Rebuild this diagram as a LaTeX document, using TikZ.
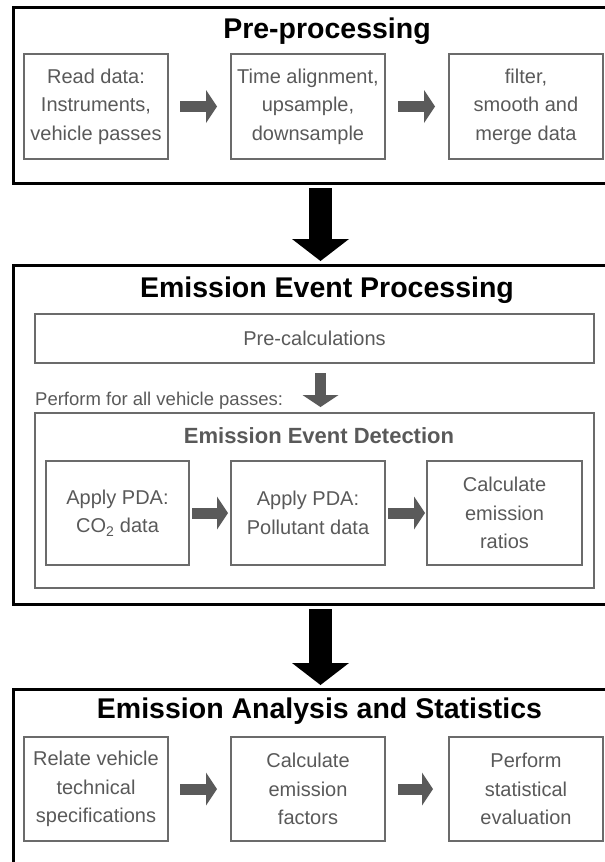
\documentclass[tikz,border=0pt]{standalone}
\usepackage{fontspec}
\setmainfont{Liberation Sans}
\usepackage{tikz}
\usetikzlibrary{arrows.meta, positioning, calc}

\definecolor{boxGray}{HTML}{6B6B6B}
\definecolor{textGray}{HTML}{595959}
\definecolor{arrowGray}{HTML}{5A5A5A}

\newcommand{\StageFont}{\fontsize{28.5}{34}\selectfont\bfseries}
\newcommand{\StepFont}{\fontsize{20}{28.5}\selectfont}
\newcommand{\NoteFont}{\fontsize{18.5}{22}\selectfont}
\newcommand{\SubStageFont}{\fontsize{22}{26}\selectfont\bfseries}

\tikzset{
    stage/.style={draw=black, line width=3pt, outer sep=0pt, inner sep=0pt},
    stagetitle/.style={font=\StageFont, anchor=base, inner sep=0pt},
    stepbox/.style={draw=boxGray, line width=2pt, outer sep=0pt, inner sep=0pt,
        text=textGray, align=center, font=\StepFont, minimum height=104pt},
    flowarrow/.style={draw=arrowGray, line width=11pt,
        -{Triangle[length=11pt, width=33pt, line width'=0pt]}},
    bigarrow/.style={draw=black, line width=23pt,
        -{Triangle[length=22pt, width=57pt, line width'=0pt]}}
}

\begin{document}
\begin{tikzpicture}[x=1pt, y=-1pt]
        \useasboundingbox (0,0) rectangle (605,862);
        \clip (0,0) rectangle (605,862);

        % Pre-processing stage
        \node[stage, minimum width=627pt, minimum height=175.5pt] (pre) at (326.5,95.25) {};
        \node[stagetitle] (preTitle) at (327,38.5) {Pre-processing};
        \node[stepbox, minimum width=144pt, minimum height=105pt] (read) at (96,106.5) {Read data:\\Instruments,\\vehicle passes};
        \node[stepbox, minimum width=154pt, minimum height=105pt] (align) at (308,106.5) {Time alignment,\\upsample,\\downsample};
        \node[stepbox, minimum width=154pt, minimum height=105pt] (merge) at (526,106.5) {filter,\\smooth and\\merge data};
        \draw[flowarrow, shorten <=12pt, shorten >=14pt] (read) -- (align);
        \draw[flowarrow, shorten <=13pt, shorten >=14pt] (align) -- (merge);

        % Emission event processing stage
        \node[stage, minimum width=627pt, minimum height=339pt] (eep) at (326.5,434.5) {};
        \node[stagetitle] (eepTitle) at (327,297) {Emission Event Processing};
        \node[stepbox, minimum width=559pt, minimum height=49pt] (precalc) at (314.5,338.5) {Pre-calculations};
        \node[font=\NoteFont, text=textGray, anchor=base west, inner sep=0pt] (allPasses) at (35,405) {Perform for all vehicle passes:};
        \node[draw=boxGray, line width=2pt, outer sep=0pt, minimum width=559pt, minimum height=175pt] (detect) at (314.5,500.5) {};
        \node[font=\SubStageFont, text=textGray, anchor=base, inner sep=0pt] (detectTitle) at (319,443) {Emission Event Detection};
        \coordinate (passAxis) at (320.5,0);
        \draw[flowarrow, -{Triangle[length=12pt, width=36pt, line width'=0pt]}, shorten <=10pt, shorten >=6pt]
            (passAxis |- precalc.south) -- (passAxis |- detect.north);

        \node[stepbox, minimum width=143pt] (pdaCO) at (117.5,513) {Apply PDA:\\CO\textsubscript{2} data};
        \node[stepbox, minimum width=154pt] (pdaPol) at (308,513) {Apply PDA:\\Pollutant data};
        \node[stepbox, minimum width=155pt] (ratios) at (504.5,513) {Calculate\\emission\\ratios};
        \draw[flowarrow, shorten <=3pt, shorten >=3pt] (pdaCO) -- (pdaPol);
        \draw[flowarrow, shorten <=3pt, shorten >=2pt] (pdaPol) -- (ratios);

        % Emission analysis stage
        \node[stage, minimum width=627pt, minimum height=211pt] (eas) at (326.5,794.5) {};
        \node[stagetitle] (easTitle) at (319.5,718) {Emission Analysis and Statistics};
        \node[stepbox, minimum width=144pt] (relate) at (96,789) {Relate vehicle\\technical\\specifications};
        \node[stepbox, minimum width=154pt] (factors) at (308,789) {Calculate\\emission\\factors};
        \node[stepbox, minimum width=154pt] (stats) at (526,789) {Perform\\statistical\\evaluation};
        \draw[flowarrow, shorten <=12pt, shorten >=14pt] (relate) -- (factors);
        \draw[flowarrow, shorten <=13pt, shorten >=16pt] (factors) -- (stats);

        % Stage arrows
        \coordinate (axis) at (320.5,0);
        \draw[bigarrow, shorten <=5pt, shorten >=4pt] (axis |- pre.south) -- (axis |- eep.north);
        \draw[bigarrow, shorten <=5pt, shorten >=4pt] (axis |- eep.south) -- (axis |- eas.north);
    \end{tikzpicture}
\end{document}
